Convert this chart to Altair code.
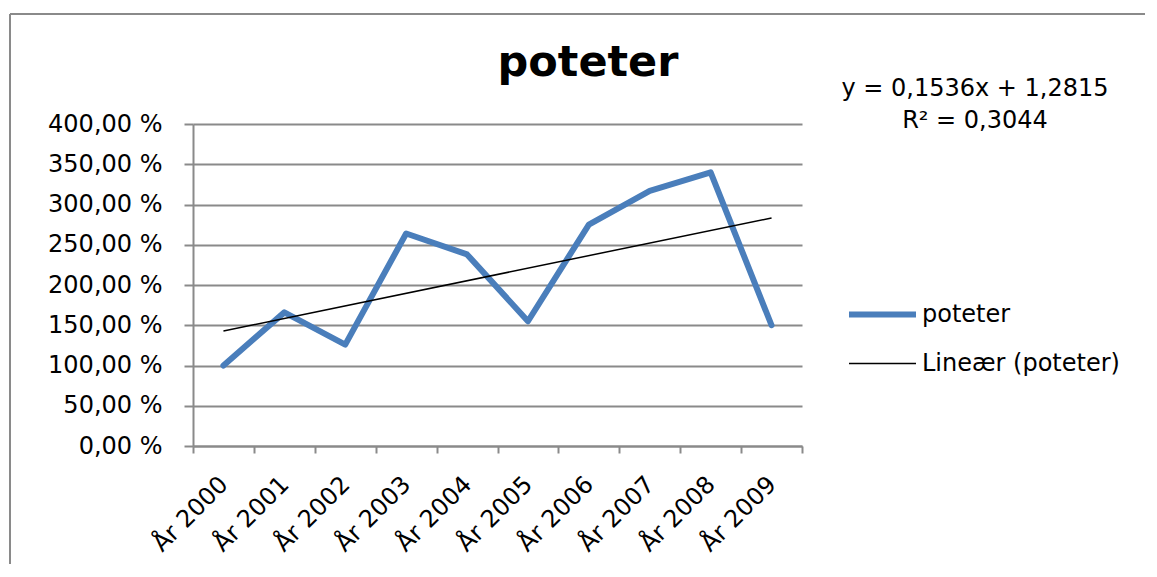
import json
import altair as alt
import pandas as pd

# ---- data ----
years = ["År 2000", "År 2001", "År 2002", "År 2003", "År 2004",
         "År 2005", "År 2006", "År 2007", "År 2008", "År 2009"]
values = [100, 166, 126, 264, 238, 155, 275, 317, 340, 150]   # percent
series_name = "poteter"
trend_name = "Lineær (poteter)"
equation_lines = ["y = 0,1536x + 1,2815", "R² = 0,3044"]
title_text = "poteter"
y_ticks = [0, 50, 100, 150, 200, 250, 300, 350, 400]

df = pd.DataFrame({
    "year": years,
    "idx": list(range(1, len(years) + 1)),
    "value": values,
    "series": [series_name] * len(years),
})

FONT = "DejaVu Sans"
FS = 24
GRAY = "#8a8a8a"
BLUE = "#4A7EBB"

TOTAL_W, TOTAL_H = 1141, 556
W, H = 609, 322
PAD_L, PAD_T = 185, 116
PAD_R = TOTAL_W - PAD_L - W
PAD_B = TOTAL_H - PAD_T - H

color_scale = alt.Scale(domain=[series_name, trend_name], range=[BLUE, "black"])
width_scale = alt.Scale(domain=[series_name, trend_name], range=[6, 1.5])

x_enc = alt.X(
    "year:O", sort=years, bandPosition=0.5,
    scale=alt.Scale(type="band", paddingInner=0, paddingOuter=0, domain=years),
    axis=alt.Axis(title=None, tickBand="extent", tickSize=7, labelAngle=-45,
                  labelPadding=19, labelOffset=-8, grid=False),
)
y_enc = alt.Y(
    "value:Q", scale=alt.Scale(domain=[0, 400], nice=False),
    axis=alt.Axis(title=None, values=y_ticks, grid=True, tickSize=9, labelPadding=22,
                  labelExpr="replace(format(datum.value, '.2f'), '.', ',') + ' %'"),
)
legend = alt.Legend(title=None, orient="none", legendX=653, legendY=154,
                    symbolType="stroke", symbolSize=4489, labelOffset=3, labelLimit=400,
                    rowPadding=2, labelFontSize=FS, labelFont=FONT, labelColor="black")

base = alt.Chart(df)

line = base.mark_line(strokeJoin="round", strokeCap="round").encode(
    x=x_enc, y=y_enc,
    color=alt.Color("series:N", scale=color_scale, legend=legend),
    strokeWidth=alt.StrokeWidth("series:N", scale=width_scale, legend=legend),
)

trend = base.transform_regression("idx", "value").transform_calculate(
    year="'År ' + (1999 + round(datum.idx))",
    series=json.dumps(trend_name),
).mark_line().encode(
    x=x_enc, y=y_enc,
    color=alt.Color("series:N", scale=color_scale, legend=legend),
    strokeWidth=alt.StrokeWidth("series:N", scale=width_scale, legend=legend),
)

one = pd.DataFrame({"t": [0]})

eq = alt.Chart(one).mark_text(
    font=FONT, fontSize=FS, align="center", baseline="alphabetic", lineHeight=32,
    color="black",
).encode(x=alt.value(782), y=alt.value(-28), text=alt.value(equation_lines))

ttl = alt.Chart(one).mark_text(
    font=FONT, fontSize=43, fontWeight="bold", align="center", baseline="alphabetic",
    color="black",
).encode(x=alt.value(395), y=alt.value(-48), text=alt.value(title_text))

# outer chart-area frame: only top and left edges are visible in the reference
frame_top = alt.Chart(one).mark_rule(color=GRAY, strokeWidth=2).encode(
    x=alt.value(-183), x2=alt.value(TOTAL_W - PAD_L - 4), y=alt.value(-110))
frame_left = alt.Chart(one).mark_rule(color=GRAY, strokeWidth=2).encode(
    x=alt.value(-183), y=alt.value(-110), y2=alt.value(TOTAL_H - PAD_T))

chart = alt.layer(frame_top, frame_left, line, trend, eq, ttl).properties(
    width=W, height=H,
    autosize=alt.AutoSizeParams(type="none"),
    padding={"left": PAD_L, "top": PAD_T, "right": PAD_R, "bottom": PAD_B},
).configure_view(stroke=None).configure_axis(
    domainColor=GRAY, domainWidth=2, tickColor=GRAY, tickWidth=2,
    gridColor=GRAY, gridWidth=2, gridOpacity=1,
    labelFont=FONT, labelFontSize=FS, labelColor="black",
)

chart.save("out.html", embed_options={"renderer": "svg", "actions": False})
